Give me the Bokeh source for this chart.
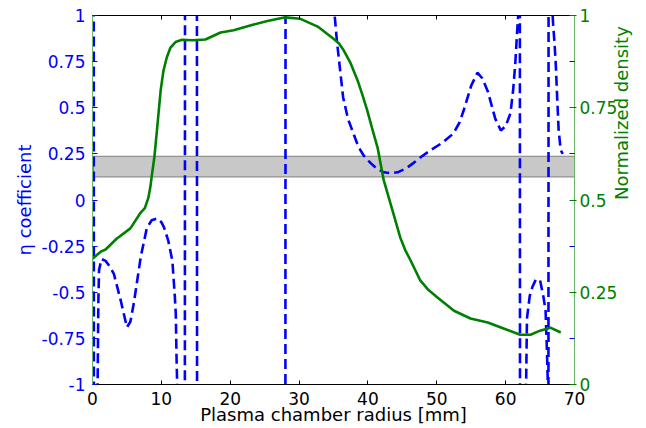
import math
from bokeh.plotting import figure
from bokeh.models import Range1d, LinearAxis, FixedTicker
from bokeh.embed import file_html
from bokeh.resources import INLINE

# ---------------- data ----------------
r_ticks = [0, 10, 20, 30, 40, 50, 60, 70]
eta_ticks = [-1, -0.75, -0.5, -0.25, 0, 0.25, 0.5, 0.75, 1]
eta_tick_labels = ["-1", "-0.75", "-0.5", "-0.25", "0", "0.25", "0.5", "0.75", "1"]
dens_ticks = [0, 0.25, 0.5, 0.75, 1]
dens_tick_labels = ["0", "0.25", "0.5", "0.75", "1"]

# eta coefficient (values beyond +-1 are the jumps through the poles)
r_eta = [0.17, 0.21, 0.6, 0.72, 0.85, 0.95, 1.3, 1.9, 2.5, 3.1, 4.1, 5.0, 5.5, 6.0,
         7.0, 7.9, 8.6, 9.4, 10.0, 10.4, 11.0, 11.6, 11.95, 12.1, 12.2, 12.3, 12.4,
         13.4, 13.45, 15.15, 15.2, 28.0, 28.05, 34.9, 35.05, 35.5, 36.4, 37.1, 37.9,
         38.6, 39.4, 40.4, 41.3, 42.3, 43.3, 44.3, 45.5, 46.6, 47.6, 49.1, 50.8, 52.4,
         53.3, 53.9, 55.0, 55.9, 56.6, 57.4, 58.5, 59.3, 60.0, 60.7, 61.1, 61.4, 61.65,
         61.8, 61.95, 62.05, 62.1, 62.8, 62.9, 63.1, 63.5, 63.9, 64.4, 65.0, 65.5, 65.8,
         66.0, 66.1, 66.2, 66.25, 66.4, 66.9, 67.1, 67.3, 67.5, 67.7, 68.0, 68.3]
eta = [3, -3, -3, -1.1, -0.55, -0.38, -0.32, -0.33, -0.36, -0.40, -0.545, -0.69, -0.66,
       -0.56, -0.31, -0.15, -0.11, -0.10, -0.12, -0.15, -0.22, -0.33, -0.52, -0.62,
       -0.85, -1.0, -3, -3, 3, 3, -3, -3, 3, 3, 1.05, 0.86, 0.556, 0.44, 0.36, 0.29,
       0.24, 0.2, 0.17, 0.15, 0.145, 0.15, 0.17, 0.2, 0.23, 0.27, 0.31, 0.36, 0.42,
       0.485, 0.62, 0.69, 0.66, 0.59, 0.44, 0.377, 0.40, 0.47, 0.6, 0.74, 0.9, 0.99,
       3, 3, -3, -3, -1.2, -0.64, -0.52, -0.47, -0.43, -0.436, -0.527, -0.6, -0.82,
       -0.96, -3, 3, 1.3, 0.95, 0.85, 0.72, 0.54, 0.377, 0.27, 0.25]

# normalized density
r_dens = [0, 1.2, 1.9, 3.5, 5.5, 7.0, 7.6, 8.1, 8.4, 8.6, 9.0, 9.4, 9.9, 10.3, 10.8,
          11.3, 12.05, 13.0, 14.5, 16.4, 18.6, 20.5, 22.9, 25.4, 28.0, 30.2, 32.7, 35.0,
          35.8, 36.5, 37.5, 38.5, 39.2, 39.9, 40.6, 41.4, 42.3, 43.7, 44.7, 45.4, 46.2,
          47.6, 48.8, 50.1, 52.5, 54.9, 57.4, 59.7, 62.1, 63.6, 65.0, 66.5, 68.0]
dens = [0.341, 0.36, 0.366, 0.395, 0.423, 0.466, 0.478, 0.505, 0.535, 0.564, 0.618,
        0.697, 0.797, 0.85, 0.887, 0.912, 0.928, 0.934, 0.933, 0.935, 0.954, 0.96, 0.973,
        0.985, 0.995, 0.991, 0.97, 0.937, 0.924, 0.905, 0.87, 0.824, 0.785, 0.743, 0.695,
        0.642, 0.553, 0.463, 0.398, 0.365, 0.336, 0.282, 0.256, 0.236, 0.2, 0.179, 0.168,
        0.152, 0.135, 0.135, 0.146, 0.154, 0.141]

# shaded band of eta values
band_r = (0.15, 70)
band_eta = (0.125, 0.237)

BLUE = "#0000ff"
GREEN = "#008000"
AXGREEN = "#6ab46a"
FONT = "DejaVu Sans"

p = figure(width=646, height=428,
           x_range=Range1d(0, 70), y_range=Range1d(-1, 1),
           output_backend="svg", toolbar_location=None,
           min_border_left=92, min_border_right=72,
           min_border_top=15, min_border_bottom=44)
p.outline_line_color = None
p.grid.visible = False
p.extra_y_ranges = {"dens": Range1d(0, 1)}

p.quad(left=[band_r[0]], right=[band_r[1]], bottom=[band_eta[0]], top=[band_eta[1]],
       fill_color="#c8c8c8", line_color="#808080", line_width=1)

p.line(r_eta, eta, line_color=BLUE, line_width=2.6, line_dash="10 5")
p.line(r_dens, dens, y_range_name="dens", line_color=GREEN, line_width=2.6)

# bottom axis
xa = p.xaxis[0]
xa.ticker = FixedTicker(ticks=r_ticks)
xa.major_tick_in = 4
xa.major_tick_out = 0
xa.minor_tick_line_color = None
xa.axis_line_color = "black"
xa.major_tick_line_color = "black"
xa.major_label_text_font = FONT
xa.major_label_text_font_size = "17px"
xa.major_label_text_color = "black"
xa.major_label_standoff = 7
xa.axis_label = "Plasma chamber radius [mm]"
xa.axis_label_text_font = FONT
xa.axis_label_text_font_size = "18px"
xa.axis_label_text_font_style = "normal"
xa.axis_label_text_color = "black"
xa.axis_label_standoff = -4

# left axis
ya = p.yaxis[0]
ya.ticker = FixedTicker(ticks=eta_ticks)
ya.major_label_overrides = {t: l for t, l in zip(eta_ticks, eta_tick_labels)}
ya.major_tick_in = 5
ya.major_tick_out = 0
ya.minor_tick_line_color = None
ya.axis_line_color = AXGREEN
ya.major_tick_line_color = BLUE
ya.major_label_text_font = FONT
ya.major_label_text_font_size = "17px"
ya.major_label_text_color = BLUE
ya.major_label_standoff = 7
ya.axis_label = "η coefficient"
ya.axis_label_text_font = FONT
ya.axis_label_text_font_size = "18px"
ya.axis_label_text_font_style = "normal"
ya.axis_label_text_color = BLUE
ya.axis_label_standoff = 4

# top axis (ticks only)
ta = LinearAxis(ticker=FixedTicker(ticks=r_ticks), major_label_text_font_size="0px",
                major_label_standoff=0, major_tick_in=4, major_tick_out=0,
                minor_tick_line_color=None, axis_line_color="black",
                major_tick_line_color="black")
ta.major_label_overrides = {t: "" for t in r_ticks}
p.add_layout(ta, "above")

# right axis (density), with blue marks at the eta ticks
minor_right = [(t + 1) / 2 for t in eta_ticks if (t + 1) / 2 not in dens_ticks]
ra = LinearAxis(y_range_name="dens",
                ticker=FixedTicker(ticks=dens_ticks, minor_ticks=minor_right),
                major_tick_in=5, major_tick_out=2, major_tick_line_color=GREEN,
                minor_tick_in=5, minor_tick_out=0, minor_tick_line_color=BLUE,
                axis_line_color=AXGREEN,
                major_label_text_font=FONT, major_label_text_font_size="17px",
                major_label_text_color=GREEN, major_label_standoff=3,
                axis_label="Normalized density", axis_label_text_font=FONT,
                axis_label_text_font_size="18px", axis_label_text_font_style="normal",
                axis_label_text_color=GREEN, axis_label_standoff=1)
ra.major_label_overrides = {t: l for t, l in zip(dens_ticks, dens_tick_labels)}
try:
    ra.axis_label_orientation = math.pi / 2
except Exception:
    pass
p.add_layout(ra, "right")

open("out.html", "w").write(file_html(p, INLINE))
